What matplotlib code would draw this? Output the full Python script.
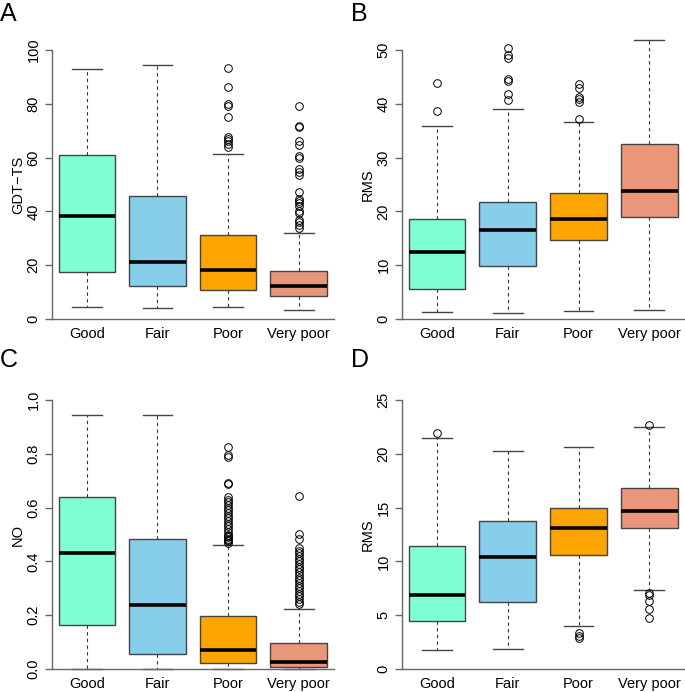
import matplotlib
matplotlib.use("Agg")
import matplotlib.pyplot as plt

plt.rcParams['font.family'] = ['Liberation Sans', 'DejaVu Sans']

categories = ['Good', 'Fair', 'Poor', 'Very poor']
colors = ['#7FFFD4', '#87CEEB', '#FFA500', '#E9967A']

# panel A: GDT-TS
gdt_low = [4.6, 4.0, 4.3, 3.3]
gdt_q1 = [17.6, 12.4, 10.8, 8.5]
gdt_med = [38.2, 21.3, 18.3, 12.1]
gdt_q3 = [61.0, 45.9, 31.2, 17.7]
gdt_high = [92.9, 94.4, 61.3, 31.9]
gdt_out = [
    [],
    [],
    [93.3, 86.3, 79.8, 79.0, 75.2, 67.6, 66.8, 66.0, 65.1, 64.1],
    [79.0, 71.9, 71.4, 66.3, 64.5, 60.6, 59.7, 55.7, 54.8, 53.6, 47.2, 44.7,
     43.9, 43.1, 42.1, 40.1, 39.4, 36.9, 35.9, 34.8, 33.8],
]

# panel B: RMS
rmsb_low = [1.3, 1.1, 1.5, 1.6]
rmsb_q1 = [5.5, 9.8, 14.7, 18.9]
rmsb_med = [12.4, 16.6, 18.6, 23.8]
rmsb_q3 = [18.6, 21.8, 23.5, 32.5]
rmsb_high = [35.8, 39.0, 36.6, 51.8]
rmsb_out = [
    [43.8, 38.7],
    [50.4, 49.1, 48.6, 44.7, 44.2, 41.8, 40.7],
    [43.7, 42.9, 41.3, 40.8, 40.4, 37.2],
    [],
]

# panel C: NO
no_low = [0.0, 0.0, 0.0, 0.0]
no_q1 = [0.165, 0.056, 0.022, 0.007]
no_med = [0.433, 0.239, 0.071, 0.027]
no_q3 = [0.641, 0.485, 0.197, 0.097]
no_high = [0.944, 0.944, 0.462, 0.222]
no_out = [
    [],
    [],
    [0.827, 0.797, 0.788, 0.693, 0.686, 0.64, 0.63, 0.62, 0.61, 0.60, 0.59,
     0.58, 0.57, 0.56, 0.55, 0.54, 0.53, 0.52, 0.51, 0.50, 0.495, 0.49,
     0.485, 0.48, 0.475, 0.47],
    [0.644, 0.501, 0.483, 0.45, 0.44, 0.43, 0.42, 0.41, 0.40, 0.39, 0.38,
     0.37, 0.36, 0.35, 0.34, 0.33, 0.32, 0.31, 0.30, 0.29, 0.28, 0.27,
     0.26, 0.25, 0.24],
]

# panel D: RMS
rmsd_low = [1.8, 1.85, 4.0, 7.3]
rmsd_q1 = [4.5, 6.2, 10.6, 13.06]
rmsd_med = [6.9, 10.4, 13.1, 14.66]
rmsd_q3 = [11.4, 13.8, 15.0, 16.85]
rmsd_high = [21.5, 20.3, 20.6, 22.5]
rmsd_out = [
    [21.9],
    [],
    [3.33, 3.09, 2.9],
    [22.7, 7.07, 6.85, 6.3, 5.56, 4.72],
]

W, H = 685, 692
fig = plt.figure(figsize=(W / 100, H / 100), dpi=100)


def make_stats(low, q1, med, q3, high, out):
    stats = []
    for i in range(len(categories)):
        stats.append({'whislo': low[i], 'q1': q1[i], 'med': med[i],
                      'q3': q3[i], 'whishi': high[i], 'fliers': out[i],
                      'label': categories[i]})
    return stats


def panel(letter, rect, stats, ylabel, ticks, ticklabels, label_x, letter_xy):
    left, right, top, zero = rect
    ax = fig.add_axes([left / W, (H - zero) / H, (right - left) / W, (zero - top) / H])
    tmax = ticks[-1]
    # 269 px between 0 and the top tick
    ax.set_ylim(0, tmax * (zero - top) / 269.0)
    ax.set_xlim(0.5, 4.5)
    bp = ax.bxp(stats, positions=[1, 2, 3, 4], widths=0.8, patch_artist=True,
                capwidths=0.42,
                boxprops=dict(edgecolor='#444444', linewidth=1.0),
                medianprops=dict(color='black', linewidth=2.6, solid_capstyle='butt'),
                whiskerprops=dict(color='#333333', linewidth=0.8, linestyle=(0, (3, 3))),
                capprops=dict(color='#444444', linewidth=1.0),
                flierprops=dict(marker='o', markersize=5.5, markerfacecolor='none',
                                markeredgecolor='black', markeredgewidth=0.7))
    for patch, c in zip(bp['boxes'], colors):
        patch.set_facecolor(c)
    for key in bp:
        for art in bp[key]:
            art.set_clip_on(False)
    for s in ['top', 'right']:
        ax.spines[s].set_visible(False)
    ax.spines['left'].set_bounds(0, tmax)
    for s in ['left', 'bottom']:
        ax.spines[s].set_color('#666666')
        ax.spines[s].set_linewidth(1.0)
    ax.set_yticks(ticks)
    ax.set_yticklabels(ticklabels, rotation=90, va='center')
    ax.tick_params(axis='y', length=5, width=1.0, color='#666666', labelsize=10.5, pad=3)
    ax.set_xticks([1, 2, 3, 4])
    ax.set_xticklabels(categories)
    ax.tick_params(axis='x', length=0, labelsize=10.5, pad=6)
    ax.set_ylabel(ylabel, fontsize=10.5)
    ax.yaxis.set_label_coords(-(left - label_x) / (right - left), 0.5 * 269 / (zero - top))
    fig.text(letter_xy[0] / W, 1 - letter_xy[1] / H, letter,
             fontsize=18, ha='left', va='top')
    return ax


panel('A', (51.5, 334, 38, 319), make_stats(gdt_low, gdt_q1, gdt_med, gdt_q3, gdt_high, gdt_out),
      'GDT\u2212TS', [0, 20, 40, 60, 80, 100], ['0', '20', '40', '60', '80', '100'], 25, (0, 2))
panel('B', (401.7, 684.6, 38, 319), make_stats(rmsb_low, rmsb_q1, rmsb_med, rmsb_q3, rmsb_high, rmsb_out),
      'RMS', [0, 10, 20, 30, 40, 50], ['0', '10', '20', '30', '40', '50'], 375, (351, 2))
panel('C', (51.5, 334, 388, 669), make_stats(no_low, no_q1, no_med, no_q3, no_high, no_out),
      'NO', [0, 0.2, 0.4, 0.6, 0.8, 1.0], ['0.0', '0.2', '0.4', '0.6', '0.8', '1.0'], 25, (0, 348))
panel('D', (401.7, 684.6, 388, 669), make_stats(rmsd_low, rmsd_q1, rmsd_med, rmsd_q3, rmsd_high, rmsd_out),
      'RMS', [0, 5, 10, 15, 20, 25], ['0', '5', '10', '15', '20', '25'], 375, (351, 348))

fig.savefig('out.png', dpi=100)
